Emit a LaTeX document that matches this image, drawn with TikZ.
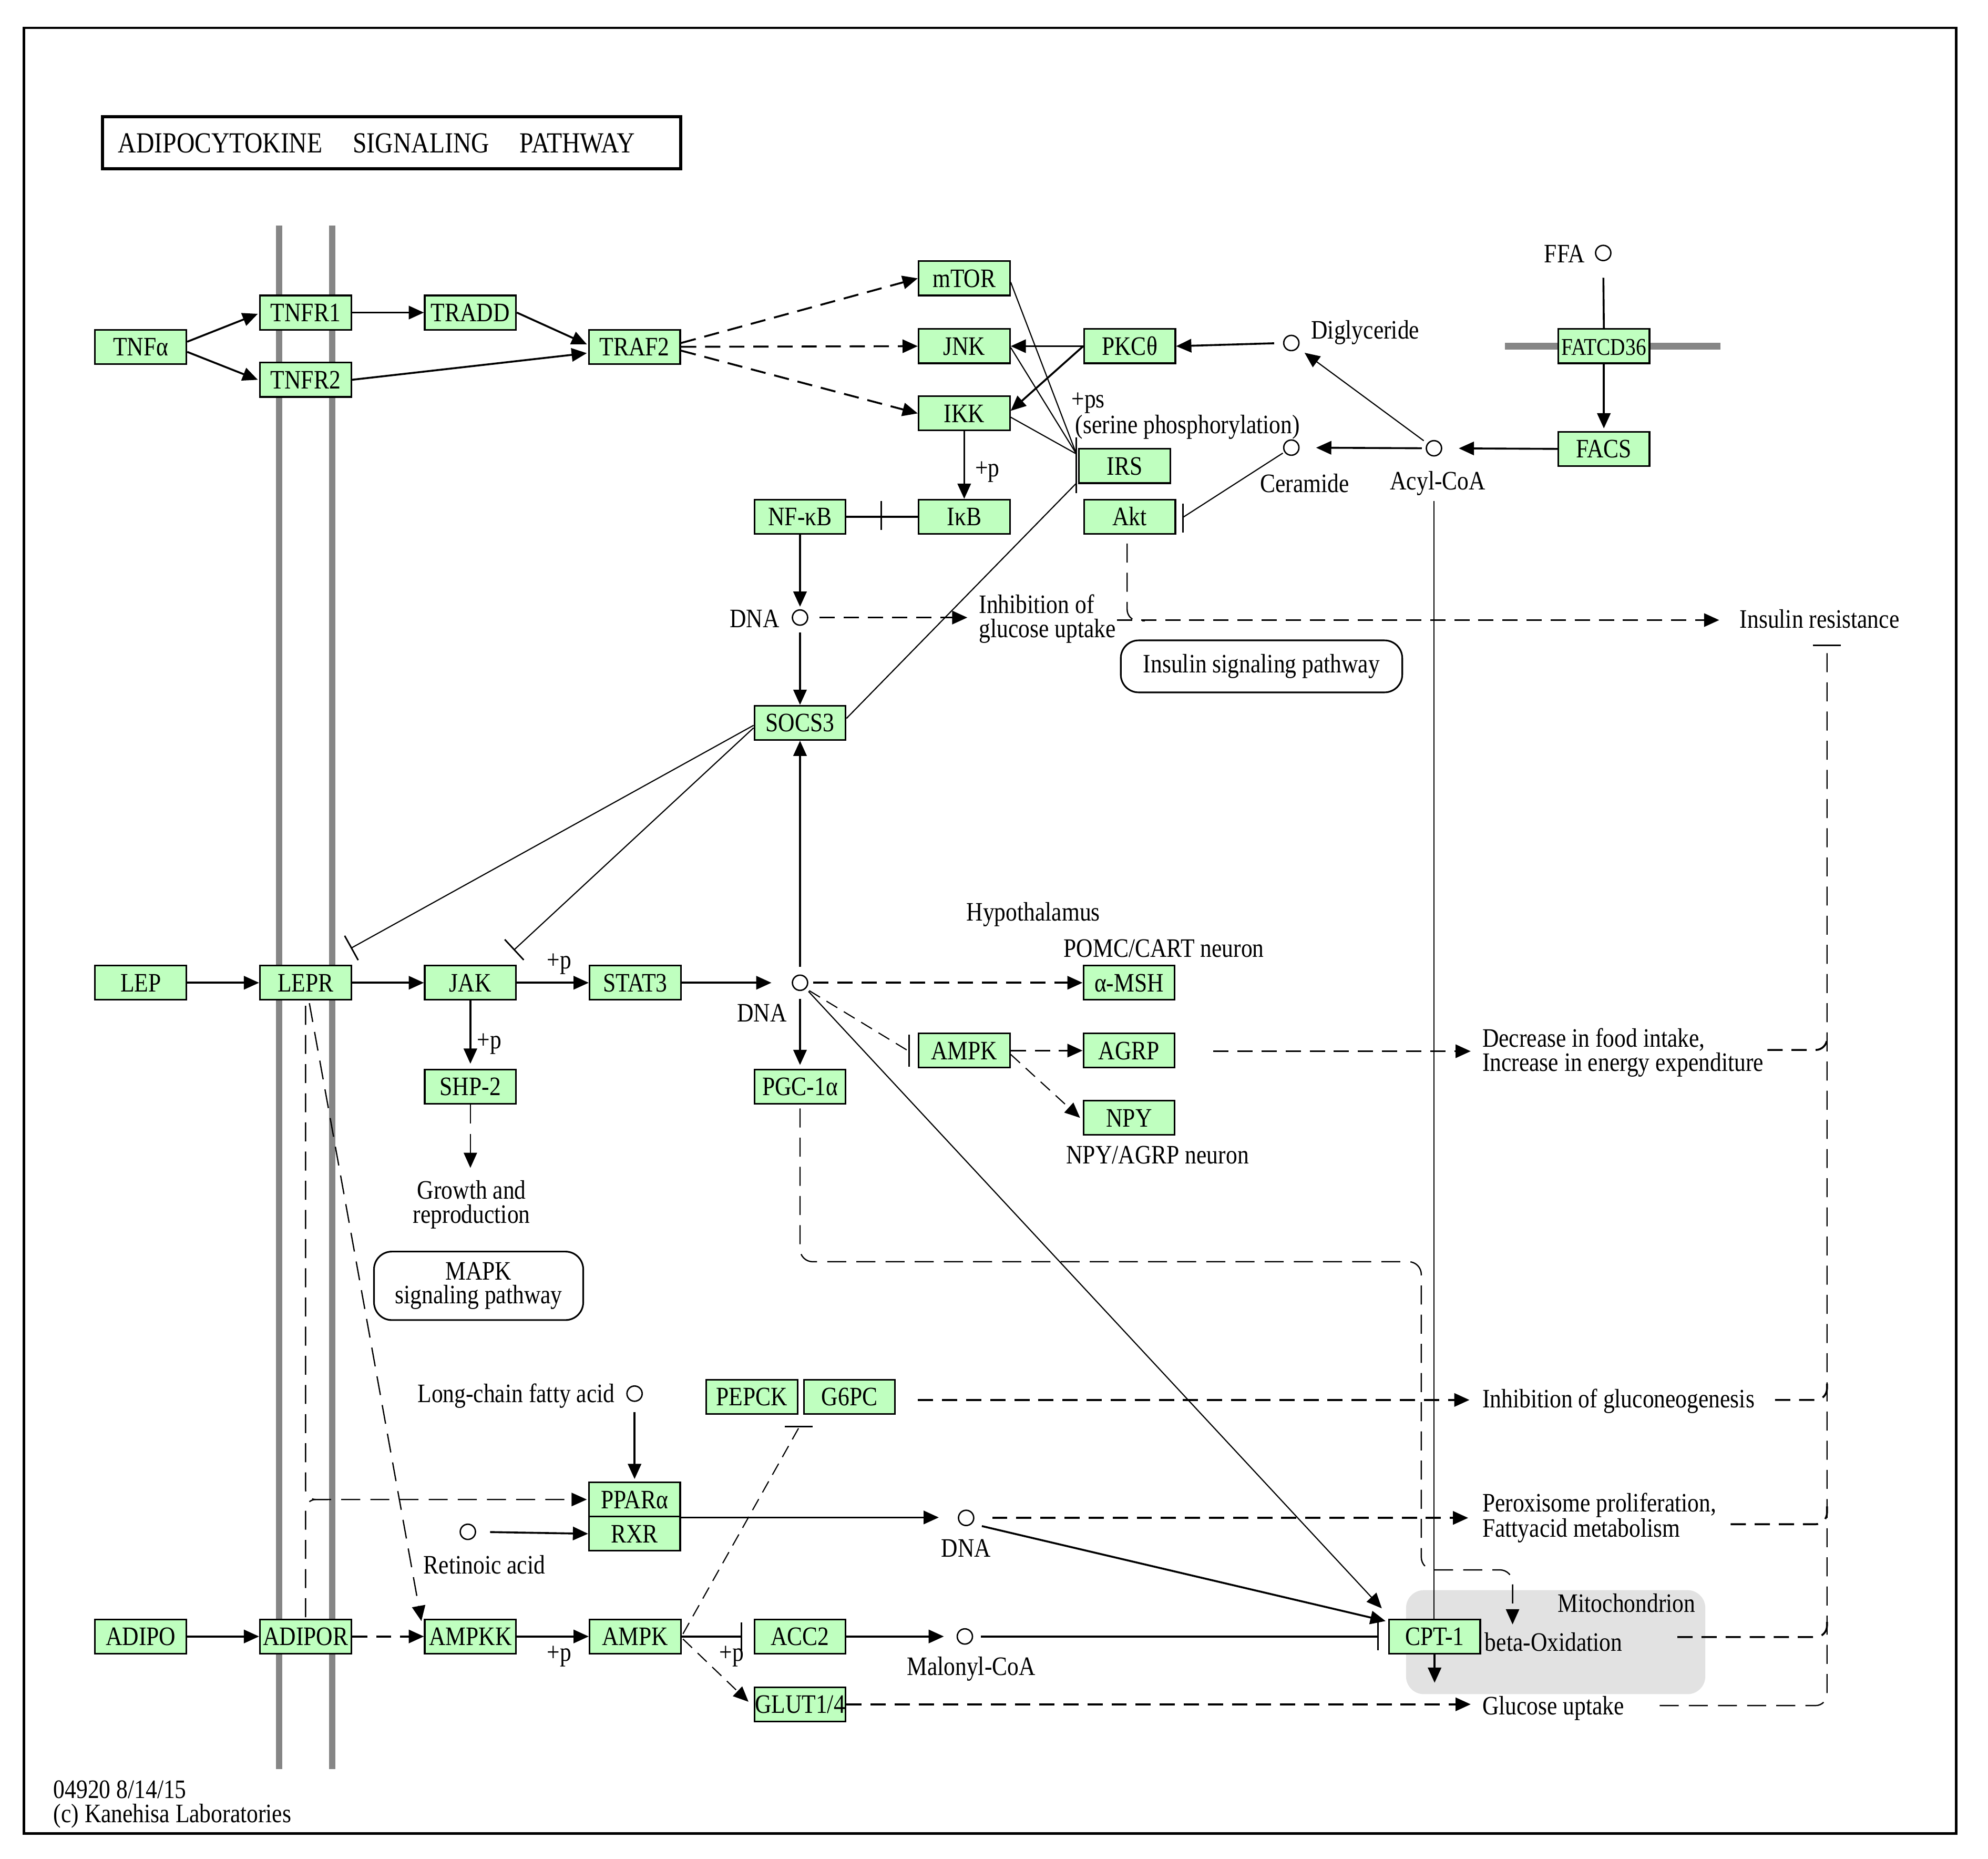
\documentclass[tikz,border=0pt]{standalone}
\usepackage{fontspec}
\setmainfont{Liberation Serif}[FakeStretch=0.86]
\usetikzlibrary{arrows.meta,calc}
\definecolor{genegreen}{HTML}{BFFFBF}
\definecolor{membrane}{HTML}{868686}
\definecolor{mitogray}{HTML}{E2E2E2}
\newcommand{\kf}{\fontsize{21}{19}\selectfont}
\begin{document}
\begin{tikzpicture}[x=1pt,y=-1pt,
  gene/.style={draw, line width=1.3pt, fill=genegreen, minimum width=72pt, minimum height=27pt, inner sep=0pt, text height=14pt, text depth=0pt, font=\kf},
  cpd/.style={circle, draw, line width=1.1pt, minimum size=12pt, inner sep=0pt},
  lbl/.style={inner sep=0pt, font=\kf, align=left},
  ln/.style={line width=1.5pt},
  thn/.style={line width=0.9pt},
  dsh/.style={line width=1.5pt, dash pattern=on 12pt off 7pt},
  tdsh/.style={line width=1pt, dash pattern=on 15pt off 8pt},
  sdsh/.style={line width=0.9pt, dash pattern=on 10pt off 6pt},
  ar/.style={-{Triangle[length=12pt,width=10.5pt]}},
  inh/.style={-{Bar[width=22pt,line width=1.2pt]}},
  barln/.style={line width=1.2pt},
  pathbox/.style={draw, line width=1.3pt, rounded corners=14pt, font=\kf, align=center, inner sep=0pt},
]
\useasboundingbox (0,0) rectangle (1568,1465.6);
\fill[white] (0,0) rectangle (1568,1465.6);
\draw[line width=2pt] (19,22) rectangle (1543,1446);

% membranes and mitochondrion
\draw[membrane, line width=5pt] (220,178) -- (220,1395);
\draw[membrane, line width=5pt] (262,178) -- (262,1395);
\draw[membrane, line width=5pt] (1187,273) -- (1357,273);
\fill[mitogray, rounded corners=14pt] (1109,1254) rectangle (1345,1336);

% title
\draw[line width=2.5pt] (81,92) rectangle (537,133);
\node[lbl, anchor=west, font=\fontsize{23}{25}\selectfont] (titletext) at (93,113) {ADIPOCYTOKINE\hspace{24pt}SIGNALING\hspace{24pt}PATHWAY};

% genes
\node[gene] (TNFa) at (111,273.5) {TNFα};
\node[gene] (TNFR1) at (241,246.5) {TNFR1};
\node[gene] (TNFR2) at (241,299.5) {TNFR2};
\node[gene] (TRADD) at (371,246.5) {TRADD};
\node[gene] (TRAF2) at (500.5,273.5) {TRAF2};
\node[gene] (mTOR) at (760.5,219.5) {mTOR};
\node[gene] (JNK) at (760.5,273) {JNK};
\node[gene] (IKK) at (760.5,326) {IKK};
\node[gene] (PKC) at (891,273) {PKCθ};
\node[gene] (IRS) at (887,367.5) {IRS};
\node[gene] (IkB) at (760.5,407.5) {IκB};
\node[gene] (NFkB) at (631,407.5) {NF-κB};
\node[gene] (Akt) at (891,407.5) {Akt};
\node[gene, font=\fontsize{19}{19}\selectfont] (FATCD) at (1265,273) {FATCD36};
\node[gene] (FACS) at (1265,354) {FACS};
\node[gene] (SOCS3) at (631,570) {SOCS3};
\node[gene] (LEP) at (111,775) {LEP};
\node[gene] (LEPR) at (241,775) {LEPR};
\node[gene] (JAK) at (371,775) {JAK};
\node[gene] (STAT3) at (501,775) {STAT3};
\node[gene] (aMSH) at (890.5,775) {α-MSH};
\node[gene] (AMPKh) at (760.5,828.5) {AMPK};
\node[gene] (AGRP) at (890.5,828.5) {AGRP};
\node[gene] (NPY) at (890.5,881.5) {NPY};
\node[gene] (SHP2) at (371,857) {SHP-2};
\node[gene] (PGC) at (631,857) {PGC-1α};
\node[gene] (PEPCK) at (593,1101.5) {PEPCK};
\node[gene] (G6PC) at (670,1101.5) {G6PC};
\node[gene] (PPARa) at (500.5,1182.5) {PPARα};
\node[gene] (RXR) at (500.5,1209.5) {RXR};
\node[gene] (ADIPO) at (111,1290.5) {ADIPO};
\node[gene] (ADIPOR) at (241,1290.5) {ADIPOR};
\node[gene] (AMPKK) at (371,1290.5) {AMPKK};
\node[gene] (AMPK) at (501,1290.5) {AMPK};
\node[gene] (ACC2) at (631,1290.5) {ACC2};
\node[gene] (GLUT) at (631,1344) {GLUT1/4};
\node[gene] (CPT1) at (1131.5,1290.5) {CPT-1};

% compounds
\node[cpd] (FFA) at (1264.5,199.5) {};
\node[cpd] (Digly) at (1018.5,270.5) {};
\node[cpd] (Cer) at (1018.5,353) {};
\node[cpd] (Acyl) at (1131,353.5) {};
\node[cpd] (DNA1) at (631,487) {};
\node[cpd] (DNA2) at (631,775) {};
\node[cpd] (LCFA) at (500.5,1099) {};
\node[cpd] (RA) at (369,1208) {};
\node[cpd] (DNA3) at (762,1197) {};
\node[cpd] (MCoA) at (761,1290.5) {};

% labels
\node[lbl, anchor=east] (lFFA) at (1250,200) {FFA};
\node[lbl, anchor=west] (lDigly) at (1034,262) {Diglyceride};
\node[lbl] (lCer) at (1029,381) {Ceramide};
\node[lbl] (lAcyl) at (1134,381) {Acyl-CoA};
\node[lbl, anchor=west] (lps) at (845,318) {+ps};
\node[lbl, anchor=west] (lser) at (848,337) {(serine phosphorylation)};
\node[lbl, anchor=west] (lp1) at (769,372) {+p};
\node[lbl, anchor=east] (lDNA1) at (615,488) {DNA};
\node[lbl, anchor=west] (igu) at (772,488) {Inhibition of\\glucose uptake};
\node[lbl, anchor=west] (insres) at (1372,488) {Insulin resistance};
\node[pathbox, minimum width=222pt, minimum height=41pt] (insp) at (995,525.5) {Insulin signaling pathway};
\node[lbl] (hypo) at (815,721) {Hypothalamus};
\node[lbl] (pomc) at (918,748) {POMC/CART neuron};
\node[lbl] (npyn) at (913,911) {NPY/AGRP neuron};
\node[lbl] (lDNA2) at (601,799) {DNA};
\node[lbl] (lp2) at (441,760) {+p};
\node[lbl] (lp3) at (386,823) {+p};
\node[lbl, anchor=west] (food) at (1169,830) {Decrease in food intake,\\Increase in energy expenditure};
\node[lbl, align=center] (growth) at (372,950) {Growth and\\reproduction};
\node[pathbox, minimum width=165pt, minimum height=54pt] (mapk) at (377.5,1014) {MAPK\\signaling pathway};
\node[lbl, anchor=east] (lLCFA) at (485,1101) {Long-chain fatty acid};
\node[lbl] (lRA) at (382,1234) {Retinoic acid};
\node[lbl] (lDNA3) at (762,1221) {DNA};
\node[lbl, anchor=west] (gneo) at (1169,1105) {Inhibition of gluconeogenesis};
\node[lbl, anchor=west] (perox) at (1169,1197) {Peroxisome proliferation,\\Fattyacid metabolism};
\node[lbl] (mitol) at (1283,1264) {Mitochondrion};
\node[lbl, anchor=west] (betaox) at (1171,1295) {beta-Oxidation};
\node[lbl, anchor=west] (gup) at (1169,1347) {Glucose uptake};
\node[lbl] (lp4) at (441,1306) {+p};
\node[lbl] (lp5) at (577,1306) {+p};
\node[lbl] (lMCoA) at (766,1316) {Malonyl-CoA};
\node[lbl, anchor=west] (footer) at (42,1423) {04920 8/14/15\\(c) Kanehisa Laboratories};

% ---- connectors: TNF pathway
\draw[ln,ar] ($(TNFa.east)+(0,-4)$) -- ($(TNFR1.west)+(-1,1)$);
\draw[ln,ar] ($(TNFa.east)+(0,4)$) -- ($(TNFR2.west)+(-1,0)$);
\draw[ln,ar] (TNFR1.east) -- (TRADD.west);
\draw[ln,ar] (TRADD.east) -- ($(TRAF2.west)+(-1,-2)$);
\draw[ln,ar] (TNFR2.east) -- ($(TRAF2.west)+(-1,5)$);
\draw[dsh,ar] ($(TRAF2.east)+(0,-3)$) -- (mTOR.west);
\draw[dsh,ar] (TRAF2.east) -- (JNK.west);
\draw[dsh,ar] ($(TRAF2.east)+(0,3)$) -- (IKK.west);
\draw[ln,ar] (PKC.west) -- (JNK.east);
\draw[ln,ar] (PKC.west) -- ($(IKK.east)+(0,-2)$);
\draw[ln,ar,shorten <=7pt] (Digly.west) -- (PKC.east);

% IRS inhibition
\coordinate (irsin) at (849,358);
\coordinate (irsin2) at (849,381);
\draw[barln] (849,345) -- (849,389);
\draw[thn] ($(mTOR.east)+(0,3)$) -- (irsin);
\draw[thn] ($(JNK.east)+(0,1)$) -- (irsin);
\draw[thn] ($(IKK.east)+(0,3)$) -- (irsin);
\draw[thn] ($(SOCS3.east)+(0,-3.5)$) -- (irsin2);

% Ceramide -| Akt
\coordinate (aktbar) at (933,408);
\draw[thn,shorten <=8pt] (Cer.center) -- (aktbar);
\draw[barln] (933,397) -- (933,420);

% NF-kB block
\draw[ln,ar] (IKK.south) -- (IkB.north);
\draw[ln] (NFkB.east) -- (IkB.west);
\draw[barln] (695,395) -- (695,418);
\draw[ln,ar,shorten >=2pt] (NFkB.south) -- (DNA1.north);
\draw[ln,ar,shorten <=5pt] (DNA1.south) -- (SOCS3.north);
\draw[dsh,ar,shorten <=9pt,shorten >=9pt] (DNA1.east) -- (DNA1.east -| igu.west);

% Akt / insulin resistance
\draw[tdsh, rounded corners=9pt] ($(Akt.south)+(-2,7)$) -- ($(Akt.south)+(-2,68)$) -- ($(Akt.south)+(12,68)$);
\coordinate (irstart) at (881,489);
\draw[dsh,ar,shorten >=16pt] (irstart) -- (irstart -| insres.west);

% SOCS3 inhibitions
\draw[thn,inh] ($(SOCS3.west)+(0,2)$) -- ($(LEPR.north east)+(-1,-13)$);
\draw[thn,inh] ($(SOCS3.west)+(0,4)$) -- ($(JAK.north east)+(-2.5,-11.5)$);

% leptin row
\draw[ln,ar] (LEP.east) -- (LEPR.west);
\draw[ln,ar] (LEPR.east) -- (JAK.west);
\draw[ln,ar] (JAK.east) -- (STAT3.west);
\draw[ln,ar,shorten >=16pt] (STAT3.east) -- (DNA2.west);
\draw[dsh,ar,shorten <=4pt] (DNA2.east) -- (aMSH.west);
\draw[ln,ar,shorten <=6pt] (DNA2.north) -- (SOCS3.south);
\draw[ln,ar,shorten <=6pt,shorten >=3pt] (DNA2.south) -- (PGC.north);
\coordinate (ampkhbar) at (716,828.5);
\draw[sdsh,shorten <=3pt] (DNA2.south east) -- (ampkhbar);
\draw[barln] (717,816) -- (717,841);
\draw[thn,ar,shorten <=3pt] (DNA2.south east) -- ($(CPT1.north west)+(-5,-8)$);

% hypothalamus
\draw[dsh,ar] (AMPKh.east) -- (AGRP.west);
\draw[sdsh,ar] ($(AMPKh.east)+(0,3)$) -- ($(NPY.west)+(-2,0)$);
\coordinate (agstart) at (957,829);
\draw[dsh,ar,shorten >=9pt] (agstart) -- (agstart -| food.west);

% SHP-2
\draw[ln,ar,shorten >=4pt] (JAK.south) -- (SHP2.north);
\coordinate (gtip) at (371,921);
\draw[tdsh,ar] (SHP2.south) -- (gtip);

% PGC-1a -> beta oxidation
\coordinate (betatip) at (1193,1281);
\draw[tdsh,ar,rounded corners=10pt] ($(PGC.south)+(0,3)$) -- (631,995) -- (1121,995) -- (1121,1238) -- (1193,1238) -- (betatip);

% gluconeogenesis
\coordinate (gstart) at (724,1104);
\draw[dsh,ar,shorten >=10pt] (gstart) -- (gstart -| gneo.west);
\coordinate (g6bar) at (630,1126);
\draw[sdsh] ($(AMPK.east)+(1,-2)$) -- (g6bar);
\draw[barln] (619,1125) -- (641,1125);

% PPAR
\draw[ln,ar,shorten <=8pt,shorten >=2pt] (LCFA.south) -- (PPARa.north);
\draw[ln,ar,shorten <=11pt] (RA.east) -- (RXR.west);
\draw[ln,ar,shorten >=15pt] (PPARa.south east) -- (PPARa.south east -| DNA3.west);
\draw[dsh,ar,shorten <=14pt,shorten >=11pt] (DNA3.east) -- (DNA3.east -| perox.west);
\draw[ln,ar,shorten <=8pt] (DNA3.south east) -- ($(CPT1.north west)+(-2,2)$);

% LEPR / ADIPOR dashed
\draw[tdsh,ar,rounded corners=8pt] ($(LEPR.south)+(0,4)$) |- ($(PPARa.west)+(-1,0)$);
\draw[tdsh,rounded corners=8pt] ($(ADIPOR.north)+(0,-1)$) |- (262,1182.5);
\draw[tdsh,ar] ($(LEPR.south)+(3,2)$) -- ($(AMPKK.north west)+(-2,2)$);

% adiponectin row
\draw[ln,ar] (ADIPO.east) -- (ADIPOR.west);
\draw[dsh,ar] (ADIPOR.east) -- (AMPKK.west);
\draw[ln,ar] (AMPKK.east) -- (AMPK.west);
\draw[ln,inh,shorten >=9pt] (AMPK.east) -- (ACC2.west);
\draw[ln,ar,shorten >=10pt] (ACC2.east) -- (MCoA.west);
\draw[sdsh,ar] ($(AMPK.east)+(1,2)$) -- ($(GLUT.west)+(-4,-2)$);
\draw[dsh,ar,shorten >=9pt] (GLUT.east) -- (GLUT.east -| gup.west);
\draw[ln,inh,shorten <=6pt,shorten >=7.5pt] (MCoA.east) -- (CPT1.west);

% fatty acid import
\draw[ln,shorten <=13pt] (FFA.south) -- (FATCD.north);
\draw[ln,ar,shorten >=2pt] (FATCD.south) -- (FACS.north);
\draw[ln,ar,shorten >=13pt] (FACS.west) -- (Acyl.east);
\draw[ln,ar,shorten <=3pt,shorten >=13pt] (Acyl.west) -- (Cer.east);
\draw[thn,ar,shorten <=10pt,shorten >=13pt] (Acyl.center) -- (Digly.center);
\draw[thn] ($(Acyl.south)+(0,35)$) -- (Acyl.south |- CPT1.north);
\coordinate (cptdown) at (1131.5,1327);
\draw[ln,ar] (CPT1.south) -- (cptdown);

% right-hand collector to insulin resistance
\coordinate (rvtop) at (1441,509);
\draw[line width=1.3pt] (1430,509) -- (1452,509);
\draw[tdsh,rounded corners=9pt] (1309,1345) -- (1441,1345) -- (rvtop);
\draw[dsh,rounded corners=9pt] (1394,828) -- (1441,828) -- (1441,815);
\draw[dsh,rounded corners=9pt] (1400,1104) -- (1441,1104) -- (1441,1090);
\draw[dsh,rounded corners=9pt] (1365,1202) -- (1441,1202) -- (1441,1188);
\draw[dsh,rounded corners=9pt] (1323,1291) -- (1441,1291) -- (1441,1277);
\end{tikzpicture}
\end{document}
